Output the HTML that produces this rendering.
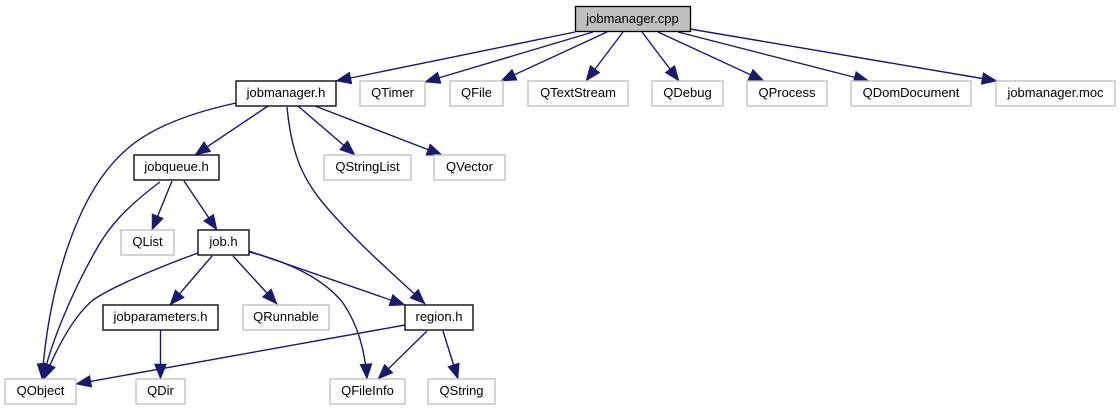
<!DOCTYPE html>
<html>
<head>
<meta charset="utf-8">
<style>
html,body{margin:0;padding:0;background:#fff;}
svg{display:block;}
text{font-family:"Liberation Sans",sans-serif;font-size:13px;text-anchor:middle;fill:#000;}
.b{fill:#fff;stroke:#000;stroke-width:1.33;}
.g{fill:#fff;stroke:#bfbfbf;stroke-width:1.33;}
.r{fill:#bfbfbf;stroke:#000;stroke-width:1.33;}
.e path{fill:none;stroke:#191970;stroke-width:1.4;marker-end:url(#a);}
</style>
</head>
<body>
<svg width="1120" height="411" viewBox="0 0 1120 411" xmlns="http://www.w3.org/2000/svg">
<defs>
<marker id="a" markerUnits="userSpaceOnUse" markerWidth="18" markerHeight="14" refX="15.5" refY="7" orient="auto">
<path d="M0.5,1 L15.5,7 L0.5,13 Z" fill="#191970" stroke="#191970" stroke-width="0.6"/>
</marker>
</defs>
<g class="e">
<path d="M575,32 L336,81"/>
<path d="M593,32 L425,82"/>
<path d="M607,32 L501,81"/>
<path d="M623,32 L586,81"/>
<path d="M642,32 L679,81"/>
<path d="M658,32 L764,81"/>
<path d="M678,32 L869,81"/>
<path d="M690,29 L997,81"/>
<path d="M236,103 C190,113 150,128 126,150 C74,195 48,295 42,379"/>
<path d="M268,106 L195,155"/>
<path d="M287,107 C292,160 305,185 338,220 C365,250 400,280 425,304"/>
<path d="M298,106 L355,155"/>
<path d="M315,106 L442,155"/>
<path d="M160,182 C125,208 108,228 96,250 C72,292 50,345 43,379"/>
<path d="M172,181 L152,230"/>
<path d="M184,181 L217,230"/>
<path d="M198,253 C165,265 115,285 93,300 C75,315 58,345 44,379"/>
<path d="M212,256 L170,305"/>
<path d="M233,256 L277,304"/>
<path d="M249,251 L405,305"/>
<path d="M249,252 C290,262 325,280 343,303 C358,325 365,350 367,379"/>
<path d="M160.5,330 L160.5,379"/>
<path d="M405,325 L76,384"/>
<path d="M427,331 L378,379"/>
<path d="M443,331 L458,379"/>
</g>
<rect class="r" x="575.5" y="6.5" width="115" height="25"/><text x="632.5" y="23">jobmanager.cpp</text>
<rect class="b" x="236" y="81" width="100" height="25"/><text x="286" y="97">jobmanager.h</text>
<rect class="g" x="360" y="81" width="65" height="25"/><text x="392.5" y="97">QTimer</text>
<rect class="g" x="450" y="81" width="53" height="25"/><text x="476.5" y="97">QFile</text>
<rect class="g" x="528" y="81" width="100" height="25"/><text x="578" y="97">QTextStream</text>
<rect class="g" x="652" y="81" width="71" height="25"/><text x="687.5" y="97">QDebug</text>
<rect class="g" x="747" y="81" width="80" height="25"/><text x="787" y="97">QProcess</text>
<rect class="g" x="851" y="81" width="120" height="25"/><text x="911" y="97">QDomDocument</text>
<rect class="g" x="996" y="81" width="119" height="25"/><text x="1055.5" y="97">jobmanager.moc</text>
<rect class="g" x="324" y="155" width="87" height="25"/><text x="367.5" y="171">QStringList</text>
<rect class="g" x="434" y="155" width="71" height="25"/><text x="469.5" y="171">QVector</text>
<rect class="b" x="134" y="155" width="85" height="25"/><text x="176.5" y="171">jobqueue.h</text>
<rect class="g" x="121" y="230" width="53" height="25"/><text x="147.5" y="246">QList</text>
<rect class="b" x="198" y="230" width="51" height="25"/><text x="223.5" y="246">job.h</text>
<rect class="b" x="103" y="305" width="115" height="25"/><text x="160.5" y="321">jobparameters.h</text>
<rect class="g" x="243" y="305" width="86" height="25"/><text x="286" y="321">QRunnable</text>
<rect class="b" x="405" y="305" width="68" height="25"/><text x="439" y="321">region.h</text>
<rect class="g" x="5" y="379" width="71" height="25"/><text x="40.5" y="395">QObject</text>
<rect class="g" x="136" y="379" width="49" height="25"/><text x="160.5" y="395">QDir</text>
<rect class="g" x="330" y="379" width="75" height="25"/><text x="367.5" y="395">QFileInfo</text>
<rect class="g" x="428" y="379" width="67" height="25"/><text x="461.5" y="395">QString</text>
</svg>
</body>
</html>
